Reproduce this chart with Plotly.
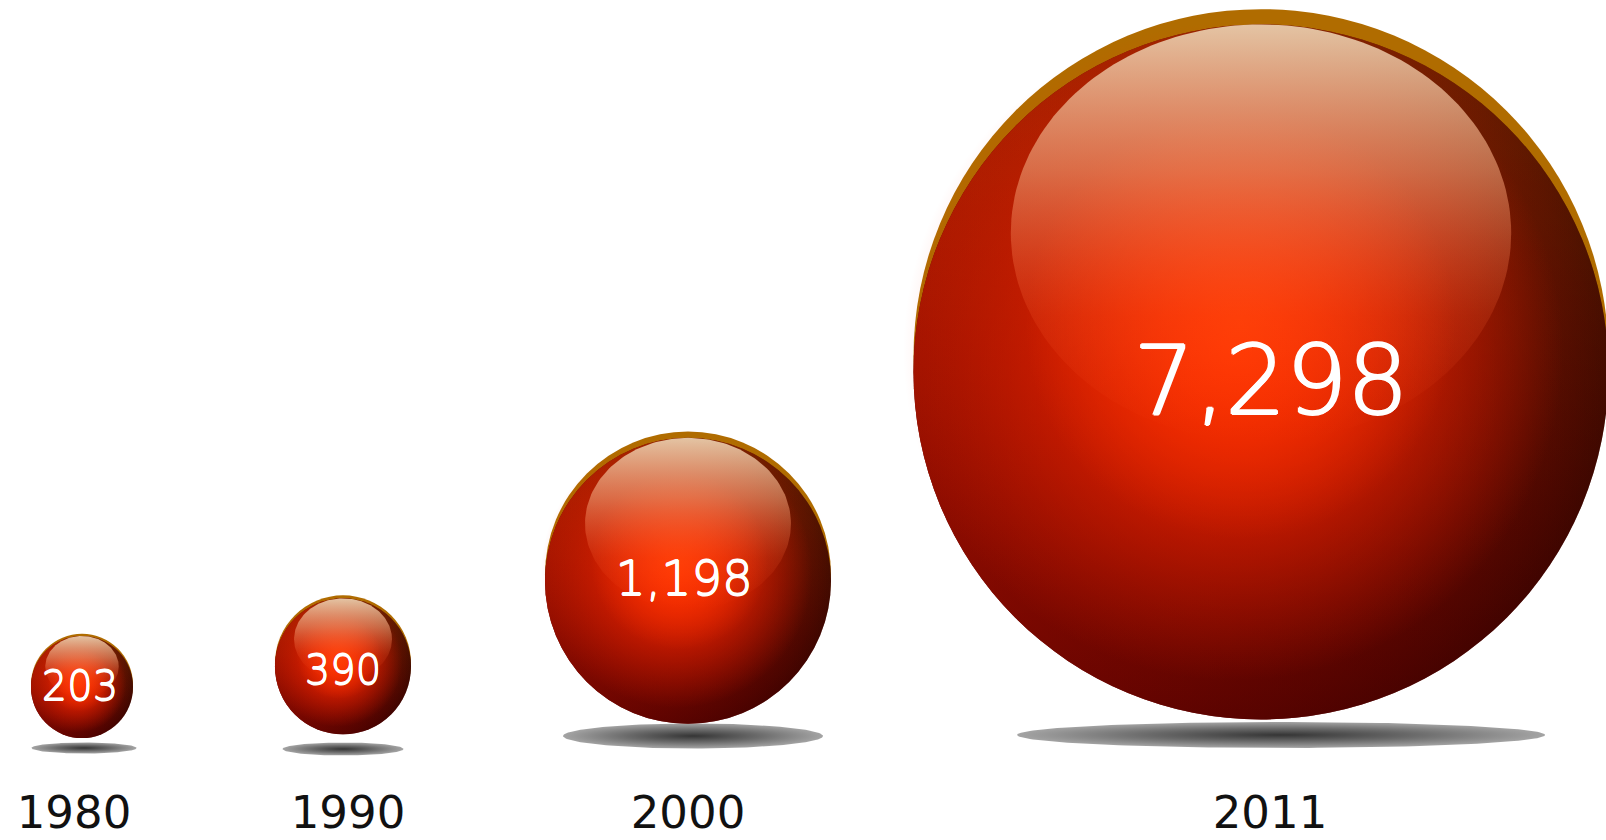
import numpy as np
import plotly.graph_objects as go

# ---- data ----
years = ["1980", "1990", "2000", "2011"]
values = [203, 390, 1198, 7298]

# ---- layout constants (pixels) ----
W, H = 1606, 840
sphere_cx = [82, 343, 688, 1261]
sphere_cy = [686, 665, 578, 365]
sphere_d = [102, 136, 286, 695]
value_font = [40, 40, 48, 96]
value_x = [80, 343, 684, 1271]
value_y = [690, 674, 583, 390]
year_x = [74, 348, 688, 1270]
year_y = [817, 817, 817, 817]
shadow_cx = [84, 343, 693, 1281]
shadow_cy = [748, 749, 736, 735]
shadow_w = [105, 121, 260, 528]
shadow_h = [11, 13, 25, 26]

FONT = "DejaVu Sans"

cx = np.array(sphere_cx, float)
cy = np.array(sphere_cy, float)
d = np.array(sphere_d, float)

fig = go.Figure()


def layer(x, y, size, color, gtype=None, gcolor=None):
    marker = dict(size=list(size), color=color, line=dict(width=0), opacity=1)
    if gtype:
        marker["gradient"] = dict(type=gtype, color=gcolor)
    fig.add_trace(go.Scatter(x=list(x), y=list(y), mode="markers", marker=marker,
                             hoverinfo="skip", showlegend=False))


# shadows
t = np.linspace(0, 2 * np.pi, 181)
for sx, sy, sw, sh in zip(shadow_cx, shadow_cy, shadow_w, shadow_h):
    fig.add_trace(go.Scatter(
        x=sx + sw / 2 * np.cos(t), y=sy + sh / 2 * np.sin(t),
        mode="lines", line=dict(width=0), fill="toself",
        fillgradient=dict(type="radial",
                          colorscale=[[0, "#353535"], [0.5, "#6a6a6a"], [1, "#a4a4a4"]]),
        hoverinfo="skip", showlegend=False))

# rim (golden-brown crescent on top)
layer(cx, cy - 0.012 * d, d, "#b06c00")
# body base
layer(cx, cy + 0.01 * d, d, "#380000", "radial", "#c00a00")
# left side brightening (red), right stays dark
layer(cx, cy + 0.01 * d, d, "rgba(215,12,0,0.92)", "horizontal", "rgba(215,12,0,0)")
# brownish tint at the top
layer(cx, cy + 0.01 * d, d, "rgba(176,96,0,0.32)", "vertical", "rgba(176,96,0,0)")
# bottom darkening
layer(cx, cy + 0.01 * d, d, "rgba(45,0,0,0)", "vertical", "rgba(45,0,0,0.5)")
# inner glows
layer(cx - 0.04 * d, cy - 0.02 * d, 0.95 * d, "rgba(255,35,0,0)", "radial", "rgba(255,42,0,1)")
layer(cx - 0.03 * d, cy - 0.06 * d, 0.62 * d, "rgba(255,55,0,0)", "radial", "rgba(255,58,0,0.85)")

# glossy highlight (rounded cap with fast vertical fade)
hl_top = cy - 0.49 * d
hl_hw = 0.36 * d
hl_hh = 0.30 * d
for x0, y0, hw, hh in zip(cx, hl_top, hl_hw, hl_hh):
    fig.add_trace(go.Scatter(
        x=x0 + hw * np.cos(t), y=y0 + hh + hh * np.sin(t),
        mode="lines", line=dict(width=0), fill="toself",
        fillgradient=dict(type="vertical", start=y0, stop=y0 + 2 * hh,
                          colorscale=[[0, "rgba(234,208,176,0.93)"],
                                      [0.35, "rgba(240,160,118,0.6)"],
                                      [0.7, "rgba(255,100,50,0.18)"],
                                      [1, "rgba(255,80,30,0.0)"]]),
        hoverinfo="skip", showlegend=False))

# value labels (light weight, slightly thickened)
for i, v in enumerate(values):
    s = round(value_font[i] * 0.013, 2)
    shadow = ", ".join(f"{dx}px {dy}px 0 #ffffff" for dx, dy in
                       [(s, 0), (-s, 0), (0, s), (0, -s)])
    fig.add_trace(go.Scatter(
        x=[value_x[i]], y=[value_y[i]], mode="text", text=[f"{v:,}"],
        textposition="middle center",
        textfont=dict(family=FONT, size=value_font[i], color="white", weight=300,
                      shadow=shadow),
        hoverinfo="skip", showlegend=False))

# year labels
fig.add_trace(go.Scatter(
    x=year_x, y=year_y, mode="text", text=years, textposition="middle center",
    textfont=dict(family=FONT, size=45, color="#111111", weight=400),
    hoverinfo="skip", showlegend=False))

fig.update_layout(
    width=W, height=H, margin=dict(l=0, r=0, t=0, b=0),
    paper_bgcolor="white", plot_bgcolor="white", showlegend=False,
    xaxis=dict(range=[0, W], visible=False, fixedrange=True),
    yaxis=dict(range=[H, 0], visible=False, fixedrange=True),
)

fig.write_html("out.html", config={"displayModeBar": False})
